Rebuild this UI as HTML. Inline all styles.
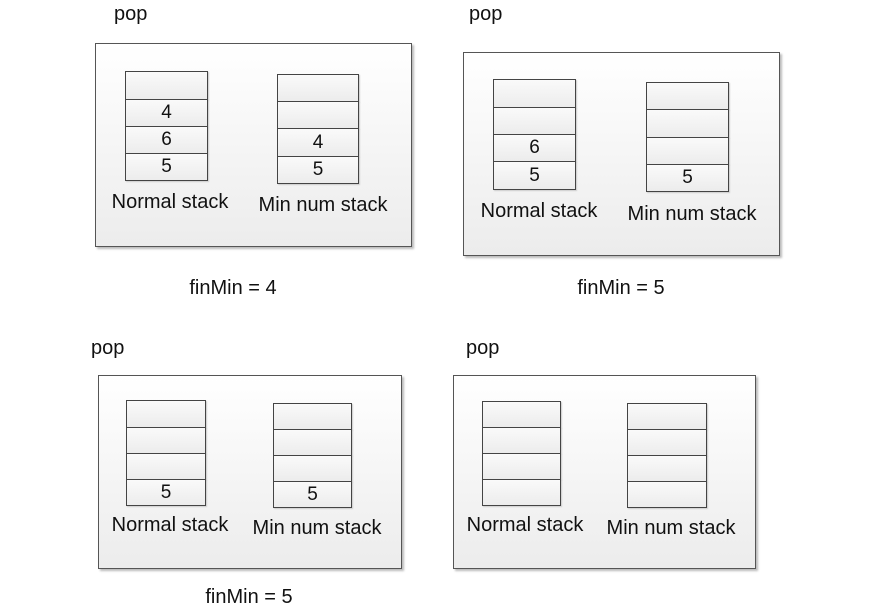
<!DOCTYPE html>
<html><head><meta charset="utf-8"><style>
body{margin:0;width:889px;height:615px;background:#fff;position:relative;overflow:hidden;font-family:"Liberation Sans",sans-serif;color:#111}
.t{position:absolute;font-size:20px;white-space:nowrap;line-height:1}
.box{position:absolute;border:1px solid #555;background:linear-gradient(#fff,#ececec);box-shadow:2px 2px 2px #bbb;box-sizing:border-box}
.cell{position:absolute;border:1px solid #444;background:linear-gradient(#fafafa,#ececec);box-sizing:border-box;text-align:center;font-size:19px;box-shadow:1px 1px 1px #ccc}
</style></head><body>
<div id="root"></div>
<script>
const panels=[
 {box:[95,43,411,246],pop:[114,4],n:[125,207,[71,99,126,153,180],["","4","6","5"]],m:[277,358,[74,101,128,156,183],["","","4","5"]],nl:[170,191],ml:[323,194],fin:["finMin = 4",233,277]},
 {box:[463,52,779,255],pop:[469,4],n:[493,575,[79,107,134,161,189],["","","6","5"]],m:[646,728,[82,109,137,164,191],["","","","5"]],nl:[539,200],ml:[692,203],fin:["finMin = 5",621,277]},
 {box:[98,375,401,568],pop:[91,338],n:[126,205,[400,427,453,479,505],["","","","5"]],m:[273,351,[403,429,455,481,507],["","","","5"]],nl:[170,514],ml:[317,517],fin:["finMin = 5",249,586]},
 {box:[453,375,755,568],pop:[466,338],n:[482,560,[401,427,453,479,505],["","","",""]],m:[627,706,[403,429,455,481,507],["","","",""]],nl:[525,514],ml:[671,517],fin:null}
];
function mk(cls,name){const e=document.createElement('div');e.className=cls;


document.body.appendChild(e);return e;}
panels.forEach((p,i)=>{
 const b=mk('box','panel-'+(i+1));
 b.style.cssText=`left:${p.box[0]}px;top:${p.box[1]}px;width:${p.box[2]-p.box[0]+1}px;height:${p.box[3]-p.box[1]+1}px`;
 const pop=mk('t','pop-label');pop.textContent='pop';pop.style.left=p.pop[0]+'px';pop.style.top=p.pop[1]+'px';
 [['n','normal-stack-cell'],['m','min-stack-cell']].forEach(([k,nm])=>{
  const [x0,x1,ys,vals]=p[k];
  for(let j=0;j<4;j++){const c=mk('cell',nm);
   const h=ys[j+1]-ys[j]+1;
   c.style.cssText=`left:${x0}px;top:${ys[j]}px;width:${x1-x0+1}px;height:${h}px;line-height:${h-2}px`;
   c.textContent=vals[j];}
 });
 const nl=mk('t','normal-stack-label');nl.textContent='Normal stack';
 nl.style.left=p.nl[0]+'px';nl.style.top=(p.nl[1]+1)+'px';nl.style.transform='translateX(-50%)';
 const ml=mk('t','min-stack-label');ml.textContent='Min num stack';
 ml.style.left=p.ml[0]+'px';ml.style.top=(p.ml[1]+1)+'px';ml.style.transform='translateX(-50%)';
 if(p.fin){const f=mk('t','finmin-label');f.textContent=p.fin[0];
  f.style.left=p.fin[1]+'px';f.style.top=(p.fin[2]+1)+'px';f.style.transform='translateX(-50%)';}
});
</script>
</body></html>
